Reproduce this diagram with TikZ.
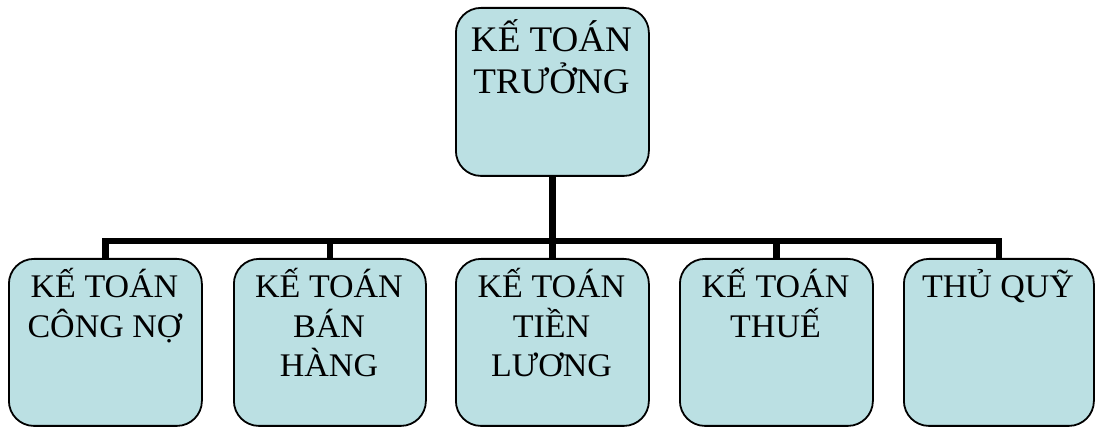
\documentclass[tikz,border=0pt]{standalone}
\usepackage{fontspec}
\setmainfont[FakeStretch=1.03]{Liberation Serif}
\definecolor{boxfill}{HTML}{BBE0E3}
\tikzset{
  box/.style={draw=black, line width=1.8pt, fill=boxfill, rounded corners=25pt,
    inner sep=0pt, anchor=north west},
  toplbl/.style={font=\fontsize{36}{42}\selectfont, align=center, anchor=base, inner sep=0pt},
  lbl/.style={font=\fontsize{33}{39.5}\selectfont, align=center, anchor=base, inner sep=0pt},
  conn/.style={line width=6.3pt, line join=miter}
}
\begin{document}
\begin{tikzpicture}[x=1pt,y=-1pt]
\useasboundingbox (0,0) rectangle (1096,427);
\coordinate (bus) at (0,241);
% boxes
\node[box, minimum width=193pt, minimum height=168pt] (top) at (455,7) {};
\node[box, minimum width=193pt, minimum height=167pt] (b1) at (8,258) {};
\node[box, minimum width=192pt, minimum height=167pt] (b2) at (233,258) {};
\node[box, minimum width=193pt, minimum height=167pt] (b3) at (455,258) {};
\node[box, minimum width=193pt, minimum height=167pt] (b4) at (679,258) {};
\node[box, minimum width=190pt, minimum height=167pt] (b5) at (903,258) {};
% connectors
\draw[conn] (top.south) -- (top.south |- bus);
\draw[conn] (b1.north) -- (b1.north |- bus) -- (b5.north |- bus) -- (b5.north);
\draw[conn] (b2.north |- bus) -- (b2.north);
\draw[conn] (b3.north |- bus) -- (b3.north);
\draw[conn] (b4.north |- bus) -- (b4.north);
% labels (base anchor = baseline of the last line)
\node[toplbl] (t0) at (551.5,94) {KẾ TOÁN\\TRƯỞNG};
\node[lbl] (t1) at (104.5,337.5) {KẾ TOÁN\\CÔNG NỢ};
\node[lbl] (t2) at (329,377) {KẾ TOÁN\\BÁN\\HÀNG};
\node[lbl] (t3) at (551.5,377) {KẾ TOÁN\\TIỀN\\LƯƠNG};
\node[lbl] (t4) at (775.5,337.5) {KẾ TOÁN\\THUẾ};
\node[lbl] (t5) at (998,298) {THỦ QUỸ};
\end{tikzpicture}
\end{document}
